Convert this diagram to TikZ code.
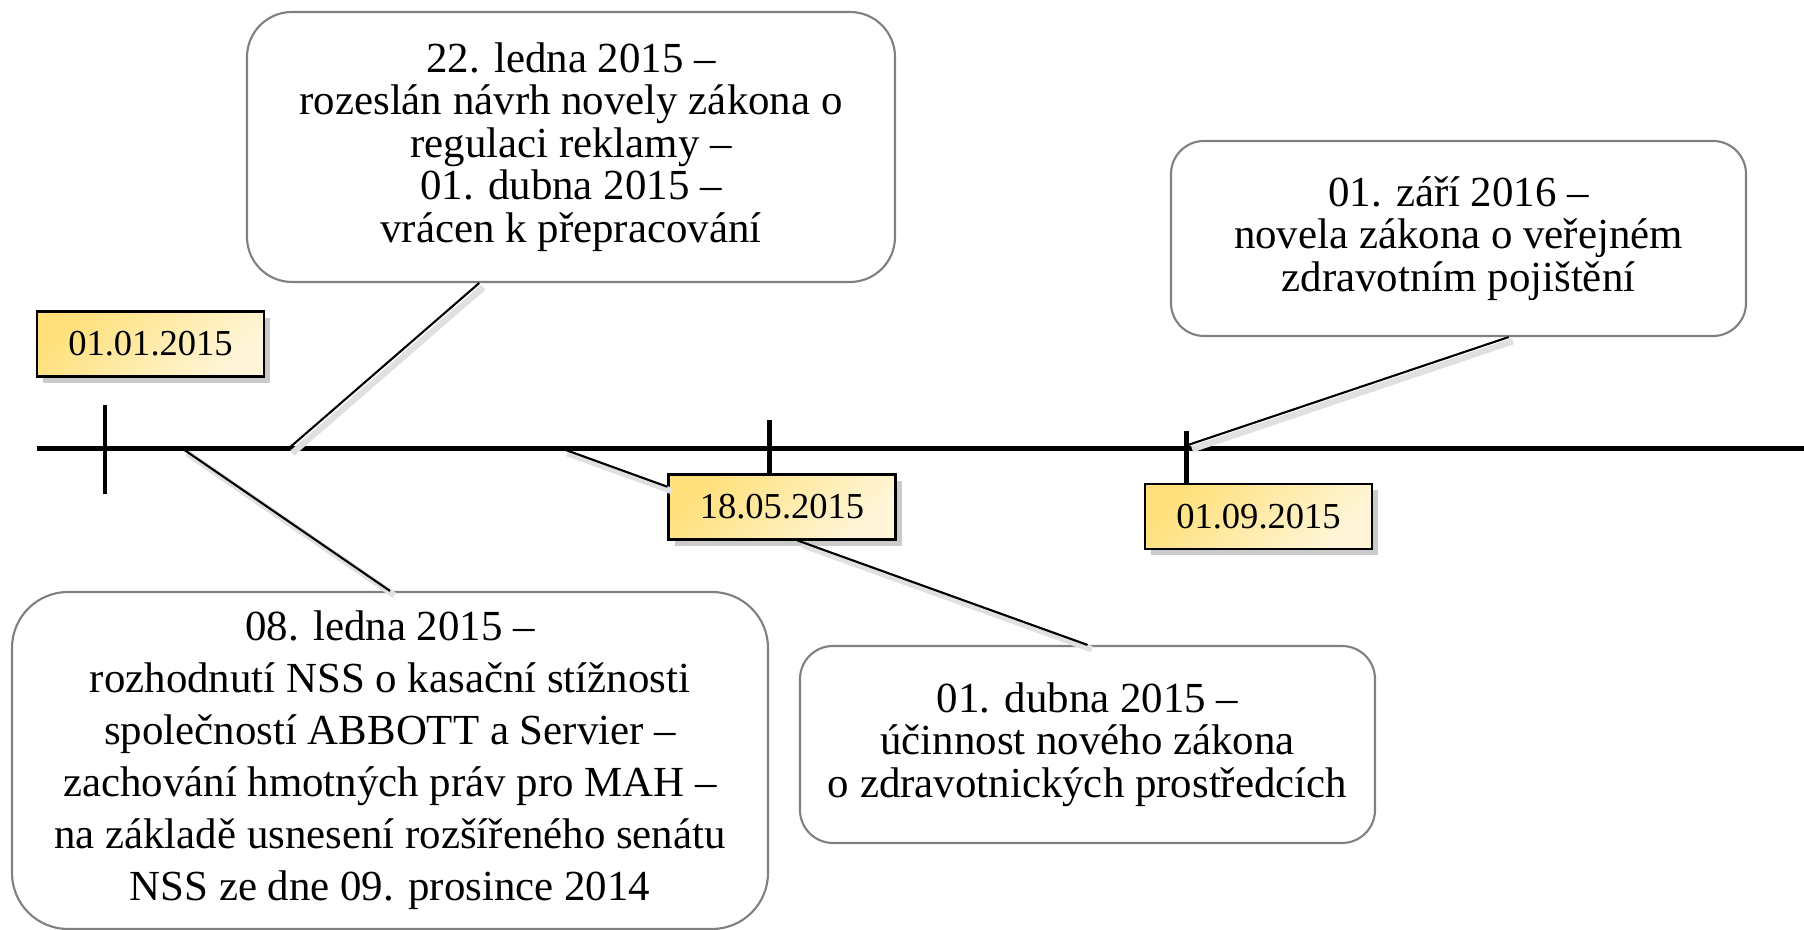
\documentclass[tikz,border=0pt]{standalone}
\usepackage{fontspec}
\setmainfont{Liberation Serif}
\usetikzlibrary{shadows}
\definecolor{dateA}{HTML}{FFE07A}
\definecolor{dateB}{HTML}{FFF6DA}
\definecolor{boxline}{HTML}{808080}
\tikzset{
  datebox/.style={draw=black, line width=0.6pt, top color=dateA, bottom color=dateB, shading angle=45,
    minimum width=2.27cm, minimum height=0.65cm, inner sep=0pt, font=\fontsize{10.4}{12}\selectfont,
    drop shadow={shadow xshift=1.8pt,shadow yshift=-1.8pt,fill=black!45,opacity=0.45}},
  eventbox/.style={draw=boxline, line width=0.6pt, fill=white, align=center, inner sep=0pt,
    font=\fontsize{12.2}{12.1}\selectfont},
  leader/.style={line width=0.6pt, preaction={draw=black!12, line width=1.8pt, transform canvas={shift={(1.2pt,-1.2pt)}}}},
  timeaxis/.style={line width=1.42pt}
}
\begin{document}
\begin{tikzpicture}

\def\axisY{4.81}
\def\tickA{1.05}
\def\tickB{7.69}
\def\tickC{11.86}

\useasboundingbox (0,0) rectangle (18.04,9.30);

% date labels:
\node[datebox] (d1) at (1.505,5.86) {01.01.2015};
\node[datebox] (d2) at (7.82,4.23) {18.05.2015};
\node[datebox] (d3) at (12.585,4.135) {01.09.2015};

% events:
\node[eventbox, rounded corners=0.45cm, minimum width=6.48cm, minimum height=2.70cm] (tm) at (5.71,7.83)
  {22. ledna 2015 –\\rozeslán návrh novely zákona o\\regulaci reklamy –\\01. dubna 2015 –\\vrácen k přepracování};
\node[eventbox, rounded corners=0.33cm, minimum width=5.75cm, minimum height=1.95cm] (tr) at (14.585,6.915)
  {01. září 2016 –\\novela zákona o veřejném\\zdravotním pojištění};
\node[eventbox, rounded corners=0.56cm, minimum width=7.56cm, minimum height=3.37cm,
  font=\fontsize{12.2}{14.8}\selectfont] (bl) at (3.90,1.695)
  {08. ledna 2015 –\\rozhodnutí NSS o kasační stížnosti\\společností ABBOTT a Servier –\\zachování hmotných práv pro MAH –\\na základě usnesení rozšířeného senátu\\NSS ze dne 09. prosince 2014};
\node[eventbox, rounded corners=0.33cm, minimum width=5.75cm, minimum height=1.97cm] (bm) at (10.875,1.855)
  {01. dubna 2015 –\\účinnost nového zákona\\o zdravotnických prostředcích};

% axis:
\coordinate (axisstart) at (0.37,\axisY);
\coordinate (axisend) at (18.04,\axisY);
\draw[timeaxis] (axisstart) -- (axisend);
\coordinate (t1) at (\tickA,5.25);
\coordinate (t1b) at (\tickA,4.36);
\coordinate (t2) at (\tickB,5.10);
\coordinate (t3) at (\tickC,4.99);
\draw[timeaxis] (t1) -- (t1b);
\draw[timeaxis] (t2) -- (t2 |- d2.north);
\draw[timeaxis] (t3) -- (t3 |- d3.north);

% leaders:
\coordinate (a1) at (2.88,\axisY);
\coordinate (a2) at (1.83,\axisY);
\coordinate (a3) at (5.63,\axisY);
\coordinate (a4) at (11.88,4.85);
\draw[leader] (a1) -- (tm.236);
\draw[leader] (a2) -- (bl.north);
\draw[leader] (a3) -- (d2.170);
\draw[leader] (d2.-65) -- (bm.north);
\draw[leader] (a4) -- (tr.-63.6);

\end{tikzpicture}
\end{document}
